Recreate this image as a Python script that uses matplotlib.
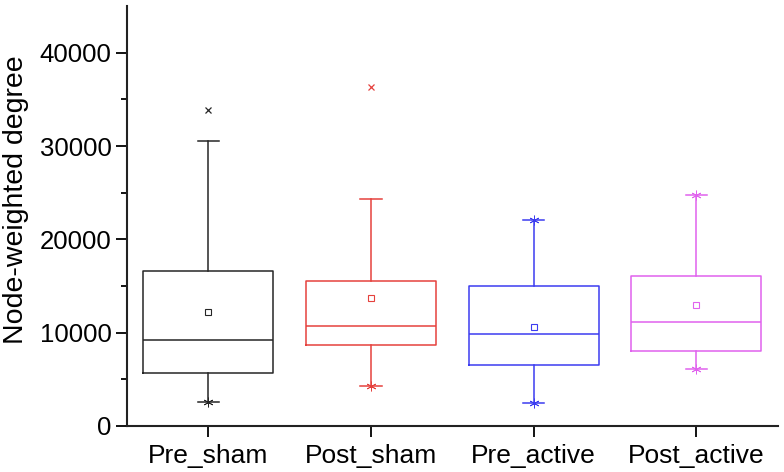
import matplotlib
matplotlib.use("Agg")
import matplotlib.pyplot as plt

plt.rcParams['font.family'] = ['Liberation Sans', 'DejaVu Sans']

groups = ['Pre_sham', 'Post_sham', 'Pre_active', 'Post_active']
colors = ['#262626', '#e5413d', '#3c3cf0', '#e062ee']

q1 = [5710, 8710, 6540, 8070]
med = [9180, 10710, 9890, 11140]
q3 = [16600, 15540, 15000, 16110]
means = [12180, 13710, 10640, 12960]
whislo = [2570, 4250, 2430, 6110]
whishi = [30540, 24320, 22040, 24790]
outliers = [[33860], [36360], [], []]

# star marks sitting on the whisker caps (None = no mark)
low_marks = [2570, 4250, 2430, 6110]
high_marks = [None, None, 22040, 24790]

stats = []
for i, g in enumerate(groups):
    stats.append(dict(label=g, q1=q1[i], med=med[i], q3=q3[i], mean=means[i],
                      whislo=whislo[i], whishi=whishi[i], fliers=outliers[i]))

fig = plt.figure(figsize=(7.84, 4.72), dpi=100)
ax = fig.add_axes([0.162, 0.0975, 0.830, 0.8895])

pos = [1, 2, 3, 4]
for i in range(4):
    c = colors[i]
    ax.bxp([stats[i]], positions=[pos[i]], widths=0.8, capwidths=0.13,
           showmeans=True, showfliers=True, patch_artist=False,
           boxprops=dict(color=c, linewidth=1.1),
           medianprops=dict(color=c, linewidth=1.1),
           whiskerprops=dict(color=c, linewidth=1.1),
           capprops=dict(color=c, linewidth=1.1),
           meanprops=dict(marker='s', markersize=4.5, markerfacecolor='none',
                          markeredgecolor=c, markeredgewidth=0.8),
           flierprops=dict(marker='x', markersize=4, markeredgecolor=c,
                           markeredgewidth=0.9))
    if low_marks[i] is not None:
        ax.plot(pos[i], low_marks[i], marker=(6, 2, 0), markersize=7,
                color=c, markeredgewidth=0.6)
    if high_marks[i] is not None:
        ax.plot(pos[i], high_marks[i], marker=(6, 2, 0), markersize=7,
                color=c, markeredgewidth=0.6)

ax.set_xlim(0.5, 4.5)
ax.set_ylim(0, 45000)
ax.set_xticks(pos)
ax.set_xticklabels(groups)
ax.set_yticks([0, 10000, 20000, 30000, 40000])
ax.set_yticks([5000, 15000, 25000, 35000], minor=True)
ax.tick_params(axis='y', which='major', direction='out', length=8,
               width=1.3, labelsize=18.5, pad=3)
ax.tick_params(axis='x', which='major', direction='out', length=8,
               width=1.3, labelsize=19, pad=5)
ax.tick_params(axis='y', which='minor', direction='out', length=4, width=1.3)
ax.set_ylabel('Node-weighted degree', fontsize=20.5)
ax.yaxis.set_label_coords(-0.151, 0.54)

for s in ['top', 'right']:
    ax.spines[s].set_visible(False)
for s in ['left', 'bottom']:
    ax.spines[s].set_linewidth(1.5)
    ax.spines[s].set_color('#222222')

fig.savefig('out.png', dpi=100)
